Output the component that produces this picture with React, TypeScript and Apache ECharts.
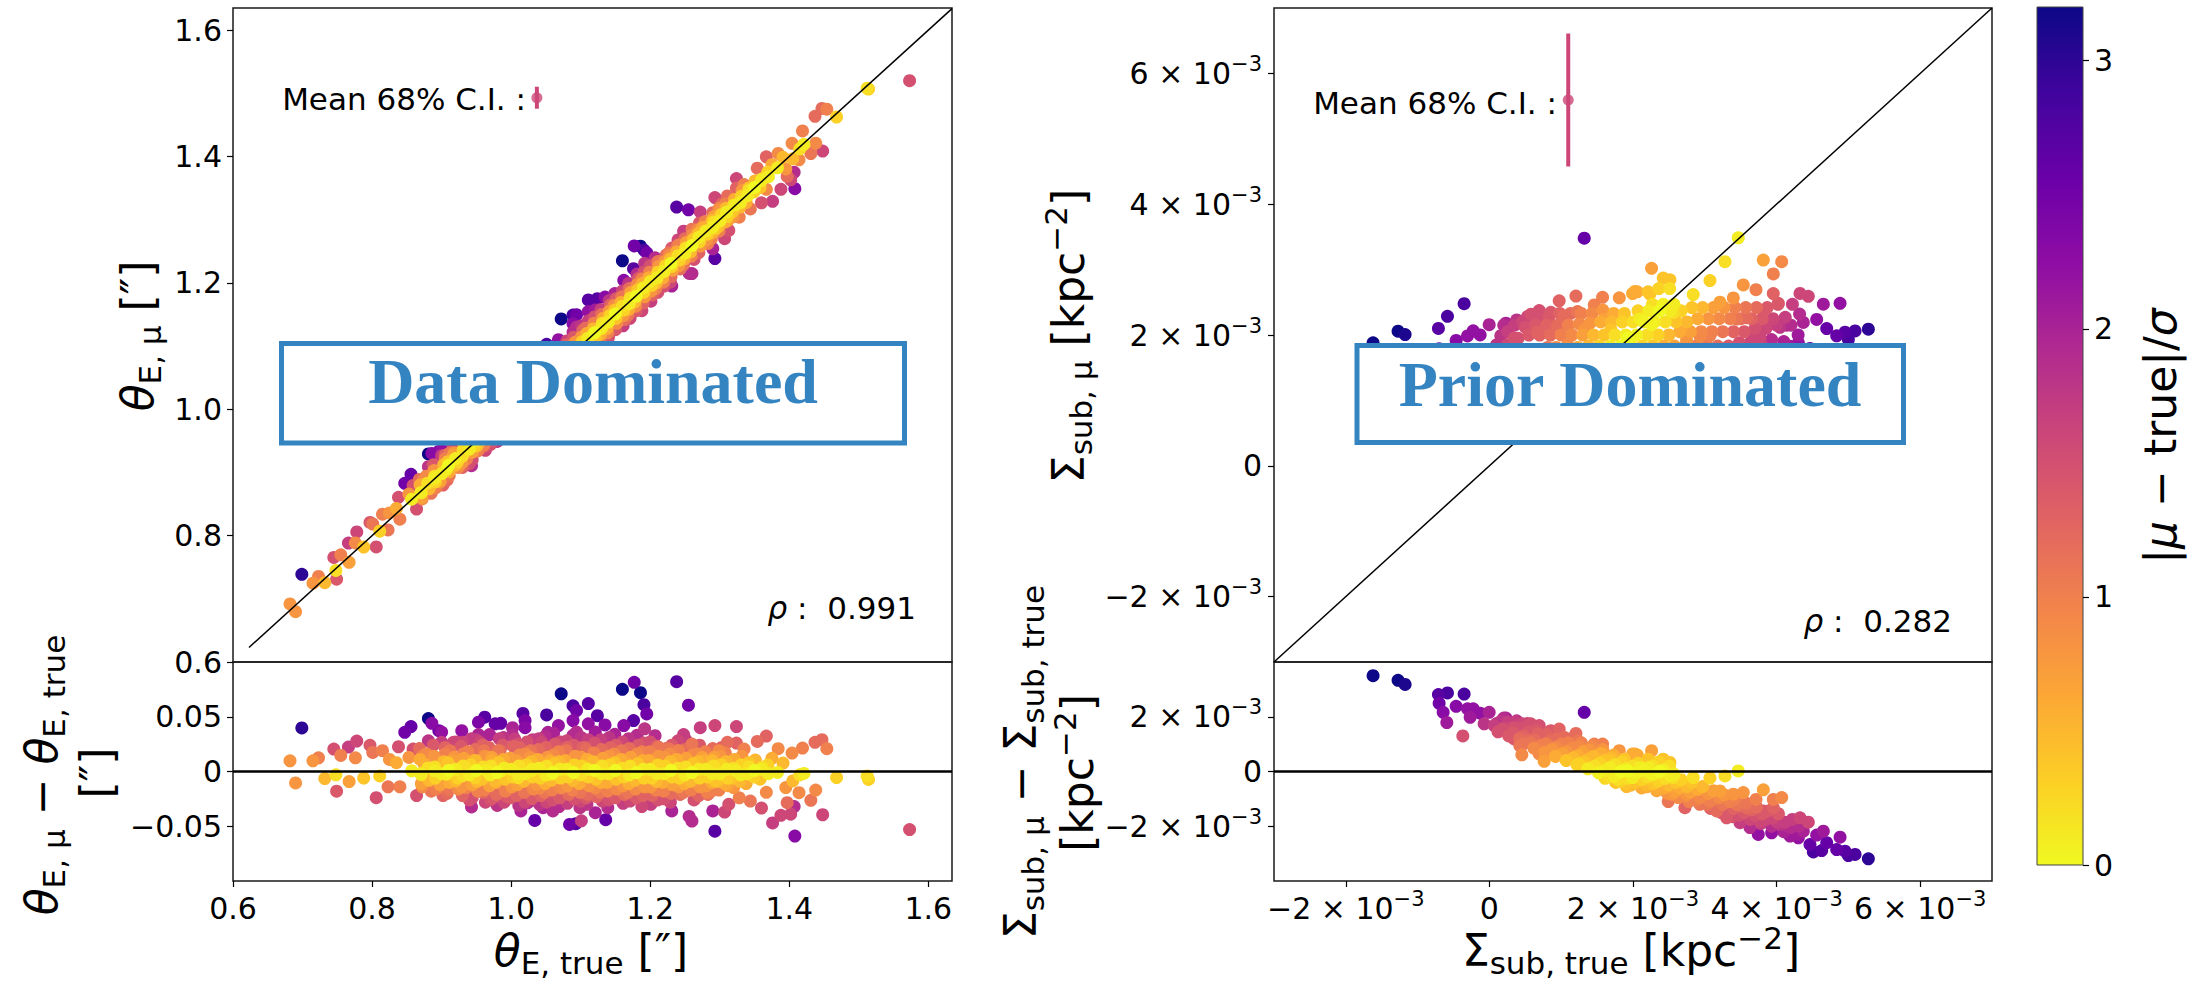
import React, { useEffect, useRef } from 'react';
import * as echarts from 'echarts';

const W = 2203;
const H = 981;
const FF = "'DejaVu Sans', 'Noto Sans', sans-serif";

// Einstein radius: [theta_true, theta_mu - theta_true, |mu-true|/sigma]
const thetaPoints: number[][] = [
  [0.682, 0.0098, 0.8], [0.690, -0.0104, 0.8], [0.699, 0.0398, 3.0], [0.715, 0.0098, 0.8],
  [0.723, 0.0125, 1.0], [0.732, -0.0064, 0.5], [0.745, 0.0205, 1.5], [0.748, -0.003, 0.2],
  [0.749, -0.018, 1.4], [0.755, 0.0147, 1.0], [0.766, 0.0223, 1.7], [0.767, -0.0092, 0.7],
  [0.776, 0.0125, 0.9], [0.778, 0.0278, 1.6], [0.788, -0.006, 0.4], [0.797, 0.0239, 1.4],
  [0.806, -0.0239, 1.5], [0.801, 0.0174, 1.1], [0.811, -0.004, 0.3], [0.815, 0.019, 1.0],
  [0.823, -0.014, 1.1], [0.825, 0.011, 0.8], [0.835, 0.008, 0.6], [0.838, 0.0226, 1.5],
  [0.840, -0.014, 1.0], [0.847, 0.0358, 2.5], [0.856, 0.041, 2.6], [0.853, 0.0128, 0.8],
  [0.857, 0.0006, 0.1], [0.864, -0.022, 1.5], [0.859, 0.0205, 1.5], [0.871, -0.003, 0.2],
  [0.873, 0.0144, 1.0], [0.875, 0.0067, 0.6], [0.872, -0.014, 0.9], [0.881, 0.0483, 3.2],
  [0.886, 0.044, 2.3], [0.881, 0.028, 1.8], [0.890, 0.0006, 0.1], [0.896, 0.0373, 2.5],
  [0.900, 0.036, 2.2], [0.900, 0.0266, 1.7], [0.897, -0.0147, 1.1], [0.905, 0.0159, 1.0],
  [0.907, -0.0024, 0.1], [0.911, -0.016, 1.1], [0.917, 0.0266, 1.6], [0.917, 0.0098, 0.7],
  [0.920, -0.0086, 0.5], [0.929, 0.0373, 2.2], [0.931, 0.0266, 1.6], [0.931, 0.0159, 1.0],
  [0.934, 0.0037, 0.2], [0.936, -0.0147, 1.0], [0.943, -0.0324, 1.9], [0.944, -0.0239, 1.5],
  [0.945, 0.0098, 0.6], [0.948, -0.0055, 0.3], [0.953, 0.045, 2.4], [0.953, 0.0337, 2.0],
  [0.955, 0.0266, 1.6], [0.962, 0.0496, 2.7], [0.960, -0.0193, 1.3], [0.961, 0.019, 1.1],
  [0.965, 0.0006, 0.1], [0.969, 0.0337, 2.0], [0.972, 0.0098, 0.6], [0.974, -0.0239, 1.4],
  [0.977, 0.0435, 2.6], [0.977, -0.0086, 0.5], [0.985, 0.044, 2.6], [0.984, 0.019, 1.2],
  [0.986, 0.0006, 0.1], [0.989, 0.031, 1.8], [0.991, -0.0147, 1.0], [0.993, -0.0224, 1.4],
  [1.002, 0.040, 2.0], [1.005, 0.0297, 1.7], [1.008, 0.0098, 0.7], [1.010, -0.0055, 0.2],
  [1.012, 0.022, 1.3], [1.014, -0.036, 2.0], [1.017, 0.053, 2.7], [1.020, 0.040, 2.3],
  [1.020, 0.0465, 2.4], [1.022, -0.0193, 1.4], [1.024, -0.0285, 1.9], [1.027, 0.0128, 0.8],
  [1.029, 0.0006, 0.1], [1.034, -0.0447, 2.6], [1.036, -0.0116, 0.8], [1.041, -0.030, 1.8],
  [1.044, 0.0266, 1.6], [1.046, -0.033, 2.0], [1.051, 0.0517, 2.8], [1.053, 0.0358, 2.0],
  [1.056, 0.0098, 0.6], [1.058, -0.0024, 0.1], [1.060, -0.036, 1.9], [1.068, 0.042, 2.2],
  [1.072, 0.071, 3.3], [1.080, 0.022, 1.3], [1.084, -0.0483, 2.5], [1.089, 0.060, 2.8],
  [1.093, -0.0477, 2.7], [1.094, 0.0557, 2.5], [1.094, 0.036, 1.9], [1.089, 0.0465, 2.3],
  [1.099, -0.033, 1.8], [1.101, -0.045, 1.7], [1.106, 0.022, 1.3], [1.111, 0.062, 2.7],
  [1.111, 0.0435, 2.2], [1.108, -0.024, 1.4],
  [1.124, 0.051, 2.7], [1.135, 0.0425, 2.3], [1.160, 0.075, 3.3], [1.177, 0.0814, 2.5],
  [1.186, 0.072, 3.4], [1.191, 0.061, 2.8], [1.195, 0.0526, 2.5], [1.176, 0.0465, 2.7],
  [1.162, 0.042, 2.3], [1.238, 0.082, 2.7], [1.255, 0.0606, 2.5], [1.207, 0.0327, 1.9],
  [1.192, 0.039, 1.8], [1.248, 0.0337, 1.7], [1.272, 0.040, 1.7], [1.293, 0.042, 1.6],
  [1.324, 0.041, 1.6], [1.367, 0.0324, 1.3], [1.354, 0.0275, 1.2], [1.324, 0.026, 1.3],
  [1.311, 0.0266, 1.2], [1.335, 0.0205, 1.0], [1.351, 0.0104, 0.6], [1.375, 0.012, 0.6],
  [1.384, 0.0208, 0.9], [1.391, 0.0077, 0.5], [1.404, 0.0168, 0.9], [1.419, 0.0214, 1.0],
  [1.437, 0.0266, 1.2], [1.447, 0.029, 1.2], [1.454, 0.0208, 1.0], [1.421, -0.0018, 0.1],
  [1.415, -0.003, 0.2], [1.468, -0.0055, 0.3], [1.512, -0.004, 0.2], [1.514, -0.0073, 0.3],
  [1.405, -0.0086, 0.5], [1.395, -0.0147, 0.8], [1.414, -0.0193, 0.9], [1.438, -0.017, 0.9],
  [1.431, -0.0263, 1.1], [1.397, -0.0285, 1.2], [1.407, -0.032, 1.9], [1.402, -0.039, 1.6],
  [1.388, -0.040, 1.6], [1.376, -0.047, 1.7], [1.408, -0.059, 2.3], [1.448, -0.0395, 1.6],
  [1.573, -0.053, 1.5], [1.360, -0.0334, 1.5], [1.367, -0.019, 0.9], [1.344, -0.027, 1.1],
  [1.328, -0.024, 1.0], [1.293, -0.0545, 2.7], [1.307, -0.037, 1.6], [1.290, -0.036, 2.0],
  [1.260, -0.0453, 1.9], [1.256, -0.041, 1.9], [1.231, -0.036, 2.0], [1.188, -0.032, 1.6],
  [1.136, -0.044, 2.6], [1.121, -0.0376, 2.0], [1.313, -0.030, 1.5], [1.282, -0.019, 1.0],
  [1.294, -0.0086, 0.4], [1.320, -0.0147, 0.8], [1.308, -0.0116, 0.6], [1.289, 0.0098, 0.5],
  [1.299, 0.019, 0.9], [1.275, 0.0128, 0.7], [1.260, 0.025, 1.1], [1.241, 0.019, 1.0],
  [1.227, 0.0205, 1.1], [1.212, 0.022, 1.1], [1.323, 0.0006, 0.1], [1.342, 0.0043, 0.2],
  [1.361, 0.0037, 0.2], [1.383, -0.0009, 0.1],
  [0.88, 0.003, 0.2], [0.882, -0.008, 0.5], [0.878, 0.016, 0.9], [0.885, -0.018, 1.1],
  [0.90, -0.002, 0.1], [0.903, 0.009, 0.5], [0.898, -0.012, 0.7], [0.905, 0.022, 1.3], [0.902, -0.022, 1.3],
  [0.92, 0.002, 0.1], [0.923, -0.006, 0.3], [0.918, 0.013, 0.8], [0.924, -0.016, 0.9], [0.921, 0.027, 1.6],
  [0.94, -0.003, 0.1], [0.942, 0.006, 0.3], [0.938, 0.018, 1.0], [0.944, -0.012, 0.7], [0.94, -0.026, 1.5], [0.943, 0.03, 1.7],
  [0.96, 0.004, 0.2], [0.958, -0.007, 0.4], [0.962, 0.014, 0.8], [0.961, -0.017, 1.0], [0.959, 0.024, 1.3], [0.963, -0.028, 1.6],
  [0.98, -0.001, 0.0], [0.982, 0.008, 0.4], [0.978, -0.01, 0.6], [0.981, 0.019, 1.1], [0.979, -0.021, 1.2], [0.983, 0.03, 1.7], [0.98, -0.031, 1.8],
  [1.0, 0.002, 0.1], [1.002, -0.005, 0.3], [0.998, 0.012, 0.7], [1.001, -0.014, 0.8], [1.003, 0.023, 1.3], [0.999, -0.024, 1.4], [1.002, 0.033, 1.9],
  [1.02, -0.002, 0.1], [1.022, 0.006, 0.3], [1.018, -0.009, 0.5], [1.021, 0.016, 0.9], [1.019, -0.019, 1.1], [1.023, 0.027, 1.5], [1.02, -0.028, 1.6],
  [1.04, 0.003, 0.1], [1.042, -0.006, 0.3], [1.038, 0.011, 0.6], [1.041, -0.015, 0.9], [1.039, 0.02, 1.2], [1.043, -0.022, 1.3], [1.04, 0.03, 1.7], [1.041, -0.03, 1.8],
  [1.06, -0.001, 0.0], [1.062, 0.007, 0.4], [1.058, -0.008, 0.5], [1.061, 0.015, 0.9], [1.059, -0.017, 1.0], [1.063, 0.025, 1.4], [1.06, -0.026, 1.5], [1.061, 0.035, 2.0],
  [1.08, 0.002, 0.1], [1.082, -0.005, 0.3], [1.078, 0.01, 0.6], [1.081, -0.013, 0.8], [1.079, 0.019, 1.1], [1.083, -0.021, 1.2], [1.08, 0.028, 1.6], [1.081, -0.029, 1.7],
  [1.1, -0.003, 0.2], [1.102, 0.005, 0.3], [1.098, -0.011, 0.6], [1.101, 0.013, 0.8], [1.099, -0.019, 1.1], [1.103, 0.022, 1.3], [1.1, -0.027, 1.6], [1.101, 0.031, 1.8],
  [1.12, 0.001, 0.0], [1.122, -0.007, 0.4], [1.118, 0.009, 0.5], [1.121, -0.015, 0.9], [1.119, 0.017, 1.0], [1.123, -0.023, 1.3], [1.12, 0.026, 1.5], [1.121, 0.036, 2.1],
  [1.14, -0.002, 0.1], [1.142, 0.006, 0.3], [1.138, -0.01, 0.6], [1.141, 0.014, 0.8], [1.139, -0.018, 1.0], [1.143, 0.022, 1.3], [1.14, -0.026, 1.5], [1.141, 0.031, 1.8], [1.139, -0.033, 1.9],
  [1.16, 0.003, 0.2], [1.162, -0.005, 0.3], [1.158, 0.011, 0.6], [1.161, -0.013, 0.8], [1.159, 0.019, 1.1], [1.163, -0.021, 1.2], [1.16, 0.027, 1.6], [1.161, -0.029, 1.7],
  [1.18, -0.001, 0.0], [1.182, 0.007, 0.4], [1.178, -0.008, 0.5], [1.181, 0.016, 0.9], [1.179, -0.016, 0.9], [1.183, 0.024, 1.4], [1.18, -0.024, 1.4], [1.181, 0.033, 1.9],
  [1.2, 0.002, 0.1], [1.202, -0.006, 0.3], [1.198, 0.01, 0.6], [1.201, -0.014, 0.8], [1.199, 0.018, 1.0], [1.203, -0.022, 1.3], [1.2, 0.027, 1.5], [1.201, -0.03, 1.7],
  [1.22, -0.002, 0.1], [1.222, 0.005, 0.3], [1.218, -0.01, 0.6], [1.221, 0.013, 0.8], [1.219, -0.018, 1.0], [1.223, 0.021, 1.2], [1.22, -0.025, 1.5],
  [1.24, 0.003, 0.2], [1.242, -0.006, 0.3], [1.238, 0.011, 0.6], [1.241, -0.014, 0.8], [1.239, 0.019, 1.1], [1.243, -0.021, 1.2], [1.24, 0.028, 1.6],
  [1.26, -0.001, 0.0], [1.262, 0.007, 0.4], [1.258, -0.009, 0.5], [1.261, 0.015, 0.9], [1.259, -0.017, 1.0], [1.263, -0.026, 1.5],
  [1.28, 0.002, 0.1], [1.282, -0.005, 0.3], [1.278, 0.01, 0.6], [1.281, -0.013, 0.8], [1.279, 0.018, 1.0], [1.283, -0.021, 1.2],
  [1.3, -0.002, 0.1], [1.302, 0.006, 0.3], [1.298, -0.009, 0.5], [1.301, 0.014, 0.8], [1.299, -0.017, 1.0], [1.303, 0.022, 1.3],
  [1.32, 0.003, 0.2], [1.318, -0.006, 0.4], [1.321, 0.011, 0.6], [1.319, -0.014, 0.8],
  [1.34, -0.002, 0.1], [1.342, 0.008, 0.4], [1.338, -0.011, 0.6],
  [1.36, 0.002, 0.1], [1.358, -0.007, 0.4],
  [0.87, -0.002, 0.1], [0.869, 0.011, 0.6], [0.871, -0.011, 0.7], [0.868, 0.021, 1.2],
  [0.89, 0.004, 0.2], [0.891, -0.006, 0.3], [0.889, 0.014, 0.8], [0.892, -0.016, 1.0], [0.888, 0.024, 1.4],
  [0.91, 0.001, 0.0], [0.911, -0.01, 0.6], [0.909, 0.008, 0.4], [0.912, 0.019, 1.1], [0.908, -0.02, 1.2],
  [0.93, -0.004, 0.2], [0.931, 0.005, 0.2], [0.929, -0.014, 0.8], [0.932, 0.012, 0.7], [0.928, 0.023, 1.4], [0.93, -0.022, 1.3],
  [0.95, 0.001, 0.0], [0.951, -0.009, 0.5], [0.949, 0.01, 0.5], [0.952, -0.018, 1.0], [0.948, 0.02, 1.2], [0.95, 0.029, 1.7],
  [0.97, -0.003, 0.1], [0.971, 0.005, 0.2], [0.969, -0.013, 0.7], [0.972, 0.013, 0.7], [0.968, 0.022, 1.3], [0.97, -0.026, 1.5],
  [0.99, 0.003, 0.1], [0.991, -0.007, 0.4], [0.989, 0.011, 0.6], [0.992, -0.018, 1.0], [0.988, 0.024, 1.4], [0.99, -0.028, 1.6],
  [1.01, -0.002, 0.1], [1.011, 0.005, 0.2], [1.009, -0.012, 0.7], [1.012, 0.015, 0.9], [1.008, -0.022, 1.3], [1.01, 0.025, 1.5], [1.011, -0.031, 1.8],
  [1.03, 0.002, 0.1], [1.031, -0.005, 0.3], [1.029, 0.009, 0.5], [1.032, -0.016, 0.9], [1.028, 0.019, 1.1], [1.03, -0.025, 1.4], [1.031, 0.029, 1.7],
  [1.05, -0.003, 0.1], [1.051, 0.005, 0.2], [1.049, -0.011, 0.6], [1.052, 0.013, 0.8], [1.048, -0.019, 1.1], [1.05, 0.022, 1.3], [1.051, -0.028, 1.6], [1.049, 0.032, 1.9],
  [1.07, 0.002, 0.1], [1.071, -0.006, 0.3], [1.069, 0.009, 0.5], [1.072, -0.015, 0.9], [1.068, 0.018, 1.0], [1.07, -0.024, 1.4], [1.071, 0.027, 1.6], [1.069, -0.032, 1.9],
  [1.09, -0.001, 0.0], [1.091, 0.006, 0.3], [1.089, -0.008, 0.5], [1.092, 0.014, 0.8], [1.088, -0.017, 1.0], [1.09, 0.024, 1.4], [1.091, -0.025, 1.5], [1.089, 0.033, 1.9],
  [1.11, 0.002, 0.1], [1.111, -0.005, 0.3], [1.109, 0.011, 0.6], [1.112, -0.013, 0.8], [1.108, 0.02, 1.2], [1.11, -0.021, 1.2], [1.111, 0.029, 1.7], [1.109, -0.03, 1.8],
  [1.13, -0.002, 0.1], [1.131, 0.005, 0.2], [1.129, -0.01, 0.6], [1.132, 0.012, 0.7], [1.128, -0.019, 1.1], [1.13, 0.02, 1.2], [1.131, -0.027, 1.6], [1.129, 0.029, 1.7],
  [1.15, 0.001, 0.0], [1.151, -0.007, 0.4], [1.149, 0.008, 0.4], [1.152, -0.016, 0.9], [1.148, 0.016, 0.9], [1.15, -0.024, 1.4], [1.151, 0.024, 1.4], [1.149, 0.034, 2.0],
  [1.17, -0.003, 0.1], [1.171, 0.005, 0.2], [1.169, -0.011, 0.6], [1.172, 0.013, 0.7], [1.168, -0.019, 1.1], [1.17, 0.021, 1.2], [1.171, -0.027, 1.6], [1.169, 0.03, 1.8],
  [1.19, 0.002, 0.1], [1.191, -0.006, 0.3], [1.189, 0.01, 0.6], [1.192, -0.014, 0.8], [1.188, 0.018, 1.0], [1.19, -0.022, 1.3], [1.191, 0.026, 1.5],
  [1.21, -0.002, 0.1], [1.211, 0.006, 0.3], [1.209, -0.009, 0.5], [1.212, 0.014, 0.8], [1.208, -0.017, 1.0], [1.21, 0.023, 1.3], [1.211, -0.026, 1.5],
  [1.23, 0.001, 0.0], [1.231, -0.005, 0.3], [1.229, 0.009, 0.5], [1.232, -0.012, 0.7], [1.228, 0.016, 0.9], [1.23, -0.02, 1.2], [1.231, 0.024, 1.4], [1.229, -0.028, 1.6],
  [1.25, -0.003, 0.1], [1.251, 0.004, 0.2], [1.249, -0.011, 0.6], [1.252, 0.012, 0.7], [1.248, -0.019, 1.1], [1.25, 0.02, 1.2], [1.251, 0.029, 1.7],
  [1.27, 0.002, 0.1], [1.271, -0.006, 0.3], [1.269, 0.009, 0.5], [1.272, -0.014, 0.8], [1.268, 0.016, 0.9], [1.27, -0.022, 1.3], [1.271, 0.024, 1.4],
  [1.29, -0.002, 0.1], [1.291, 0.005, 0.2], [1.289, -0.01, 0.6], [1.292, 0.013, 0.7], [1.288, -0.018, 1.0], [1.29, 0.021, 1.2],
  [1.31, 0.002, 0.1], [1.311, -0.006, 0.3], [1.309, 0.009, 0.5], [1.312, -0.013, 0.7], [1.308, 0.017, 1.0],
  [1.33, -0.003, 0.1], [1.331, 0.006, 0.3], [1.329, -0.009, 0.5], [1.332, 0.014, 0.8],
  [1.35, 0.001, 0.0], [1.349, -0.005, 0.3], [1.351, 0.01, 0.5],
  [1.37, -0.002, 0.1], [1.369, 0.006, 0.3],
];

// Subhalo surface density (units of 1e-3 kpc^-2): [true, mu - true, |mu-true|/sigma]
const sigmaPoints: number[][] = [
  [-1.620, 3.50, 3.3], [-1.272, 3.33, 3.3], [-1.174, 3.18, 3.1], [-0.710, 2.81, 2.7],
  [-0.584, 2.87, 2.8], [-0.352, 2.83, 2.8], [-0.700, 2.49, 2.5], [-0.644, 2.16, 2.3],
  [-0.593, 1.79, 2.1], [-0.463, 2.38, 2.3], [-0.370, 1.30, 1.5], [-0.305, 2.29, 2.2],
  [-0.226, 2.29, 2.2], [-0.268, 1.98, 2.1], [-0.129, 2.13, 2.2], [-0.003, 2.16, 2.0],
  [-0.073, 1.74, 1.8], [0.066, 1.68, 1.7], [0.159, 1.83, 1.8], [0.252, 1.80, 1.7],
  [0.159, 1.49, 1.6], [0.345, 1.61, 1.5], [0.345, 1.19, 1.4], [0.461, 1.74, 1.6],
  [0.577, 1.74, 1.5], [0.694, 1.68, 1.5], [0.424, 0.94, 1.1], [0.452, 0.61, 0.9],
  [0.554, 1.13, 1.2], [0.670, 1.37, 1.3], [0.694, 0.64, 0.9], [0.763, 0.37, 0.7],
  [0.810, 1.00, 1.1], [0.856, 1.49, 1.4], [0.972, 1.55, 1.3], [0.949, 0.82, 0.9],
  [1.042, 1.25, 1.2], [1.088, 0.76, 0.9], [1.205, 1.39, 1.2], [1.228, 1.13, 1.1],
  [1.321, 2.16, 2.6], [1.181, 0.51, 0.6], [1.251, 0.27, 0.3], [1.321, 0.76, 0.8],
  [1.391, 0.39, 0.5], [1.437, 0.15, 0.2], [1.460, 1.00, 1.0], [1.576, 1.00, 1.0],
  [1.600, 0.64, 0.7], [1.692, 0.39, 0.4], [1.739, -0.16, 0.1], [1.785, -0.28, 0.2],
  [1.809, 0.76, 0.8], [1.901, -0.46, 0.4], [1.925, 0.02, 0.0], [1.994, 0.64, 0.6],
  [1.994, -0.22, 0.1],
  [2.026, 0.64, 0.6], [2.259, 0.76, 0.7], [2.235, 0.39, 0.4], [2.421, 0.45, 0.4],
  [2.514, 0.33, 0.4], [2.096, 0.15, 0.1], [2.259, -0.10, 0.05], [2.561, -0.22, 0.2],
  [2.839, -0.22, 0.2], [3.072, -0.24, 0.3], [3.281, -0.16, 0.2], [3.466, 0.02, 0.1],
  [2.189, -0.56, 0.6], [2.328, -0.65, 0.6], [2.491, -1.10, 1.1], [2.723, -1.32, 1.3],
  [2.537, -0.83, 0.8], [2.746, -0.83, 0.8], [2.932, -0.95, 0.9], [3.072, -1.08, 1.0],
  [3.165, -1.44, 1.2], [3.304, -1.69, 1.4], [3.211, -0.71, 0.7], [3.397, -0.83, 0.8],
  [3.536, -0.77, 0.8], [3.443, -1.20, 1.1], [3.583, -1.32, 1.2], [3.713, -1.02, 1.0],
  [3.815, -0.67, 0.7], [3.954, -1.02, 1.0], [4.071, -0.95, 0.9], [3.490, -1.87, 1.7],
  [3.629, -2.05, 1.9], [3.745, -2.30, 2.2], [3.676, -1.69, 1.6], [3.768, -1.81, 1.6],
  [3.815, -1.44, 1.4], [3.954, -1.32, 1.3], [4.024, -1.54, 1.4], [3.931, -2.24, 2.2],
  [4.047, -1.93, 1.8], [4.140, -1.99, 1.9], [4.187, -2.36, 2.1], [4.326, -1.69, 1.6],
  [4.442, -1.85, 1.6], [4.372, -2.18, 2.0], [4.303, -2.42, 2.2], [4.465, -2.67, 2.6],
  [4.512, -2.94, 2.8], [4.558, -2.32, 2.2], [4.651, -2.18, 2.1], [4.628, -2.89, 2.7],
  [4.698, -2.60, 2.6], [4.837, -2.85, 2.6], [4.884, -2.40, 2.2], [4.953, -2.91, 2.7],
  [5.000, -3.07, 2.8], [5.093, -3.03, 2.8], [5.278, -3.19, 3.0],
  [0.1, 1.75, 1.8], [0.12, 1.45, 1.5], [0.25, 1.6, 1.6], [0.27, 1.3, 1.4], [0.23, 1.95, 2.0],
  [0.4, 1.55, 1.5], [0.42, 1.2, 1.2], [0.38, 1.85, 1.8], [0.55, 1.45, 1.4], [0.57, 1.05, 1.1],
  [0.53, 1.75, 1.6], [0.7, 1.3, 1.3], [0.72, 0.95, 1.0], [0.68, 1.6, 1.5], [0.85, 1.15, 1.2],
  [0.87, 0.8, 0.8], [0.83, 1.45, 1.4], [1.0, 1.0, 1.0], [1.02, 0.65, 0.7], [0.98, 1.35, 1.3],
  [1.15, 0.85, 0.9], [1.17, 0.5, 0.5], [1.13, 1.2, 1.2], [1.3, 0.7, 0.7], [1.32, 0.35, 0.4],
  [1.28, 1.05, 1.0], [1.45, 0.55, 0.5], [1.47, 0.2, 0.2], [1.43, 0.9, 0.9], [1.6, 0.4, 0.4],
  [1.62, 0.05, 0.1], [1.58, 0.8, 0.8], [1.61, -0.25, 0.25], [1.75, 0.25, 0.2], [1.77, -0.1, 0.1],
  [1.73, 0.6, 0.6], [1.76, -0.4, 0.4], [1.9, 0.1, 0.1], [1.92, -0.25, 0.2], [1.88, 0.45, 0.4],
  [1.91, -0.55, 0.5], [2.05, -0.05, 0.05], [2.07, 0.3, 0.3], [2.03, -0.4, 0.4], [2.06, 0.6, 0.6],
  [2.2, -0.2, 0.2], [2.22, 0.15, 0.1], [2.18, -0.5, 0.5], [2.21, 0.45, 0.4], [2.35, -0.35, 0.3],
  [2.37, 0.0, 0.0], [2.33, -0.7, 0.7], [2.36, 0.35, 0.3], [2.5, -0.5, 0.5], [2.52, -0.15, 0.1],
  [2.48, -0.8, 0.8], [2.51, 0.2, 0.2], [2.65, -0.6, 0.6], [2.67, -0.3, 0.3], [2.63, -0.95, 0.9],
  [2.8, -0.75, 0.7], [2.82, -0.4, 0.4], [2.78, -1.1, 1.0], [2.95, -0.9, 0.9], [2.97, -0.55, 0.5],
  [2.93, -1.2, 1.1], [3.1, -1.05, 1.0], [3.12, -0.7, 0.7], [3.08, -1.35, 1.3], [3.25, -1.2, 1.1],
  [3.27, -0.85, 0.8], [3.23, -1.5, 1.4], [3.4, -1.35, 1.3], [3.42, -1.0, 1.0], [3.38, -1.65, 1.5],
  [3.55, -1.5, 1.4], [3.57, -1.15, 1.1], [3.7, -1.6, 1.5], [3.72, -1.3, 1.2], [3.85, -1.75, 1.6],
  [3.87, -1.45, 1.4], [4.0, -1.85, 1.7], [4.02, -1.55, 1.5], [4.2, -2.05, 1.9], [4.22, -1.75, 1.7],
  [0.18, 1.55, 1.5], [0.2, 1.95, 1.9], [0.33, 1.42, 1.4], [0.35, 1.8, 1.7],
  [0.48, 1.3, 1.3], [0.5, 1.62, 1.5], [0.47, 1.0, 1.1], [0.63, 1.15, 1.2], [0.65, 1.5, 1.4], [0.62, 0.85, 0.9],
  [0.78, 1.0, 1.0], [0.8, 1.35, 1.3], [0.77, 0.7, 0.8], [0.93, 0.88, 0.9], [0.95, 1.2, 1.2], [0.92, 0.55, 0.6],
  [1.08, 0.72, 0.8], [1.1, 1.05, 1.0], [1.07, 0.4, 0.4], [1.23, 0.58, 0.6], [1.25, 0.92, 0.9], [1.22, 0.25, 0.3],
  [1.38, 0.45, 0.5], [1.4, 0.78, 0.8], [1.37, 0.1, 0.1], [1.53, 0.3, 0.3], [1.55, 0.65, 0.6], [1.52, -0.05, 0.05],
  [1.68, 0.15, 0.1], [1.7, 0.5, 0.5], [1.67, -0.2, 0.2], [1.83, 0.0, 0.0], [1.85, 0.35, 0.3], [1.82, -0.35, 0.3],
  [1.98, -0.15, 0.1], [2.0, 0.2, 0.2], [1.97, -0.5, 0.5], [2.13, -0.3, 0.3], [2.15, 0.05, 0.05], [2.12, -0.6, 0.6],
  [2.28, -0.45, 0.4], [2.3, -0.1, 0.1], [2.27, 0.2, 0.2], [2.43, -0.6, 0.6], [2.45, -0.25, 0.2], [2.42, 0.05, 0.05],
  [2.58, -0.75, 0.7], [2.6, -0.4, 0.4], [2.57, -0.1, 0.1], [2.73, -0.9, 0.9], [2.75, -0.55, 0.5],
  [2.88, -1.05, 1.0], [2.9, -0.65, 0.6], [3.03, -1.2, 1.1], [3.05, -0.8, 0.8], [3.18, -1.35, 1.2], [3.2, -0.95, 0.9],
  [3.33, -1.5, 1.4], [3.35, -1.1, 1.0], [3.48, -1.6, 1.5], [3.5, -1.25, 1.2], [3.63, -1.75, 1.6], [3.65, -1.4, 1.3],
  [3.78, -1.9, 1.7], [3.8, -1.55, 1.4], [3.93, -2.0, 1.9], [3.95, -1.7, 1.6], [4.1, -2.2, 2.0], [4.12, -1.85, 1.7],
  [4.3, -2.3, 2.1], [4.32, -2.0, 1.9],
];

const thetaTicks = [0.6, 0.8, 1.0, 1.2, 1.4, 1.6];
const thetaResidTicks = [-0.05, 0, 0.05];
const sigmaTicks = [-2, 0, 2, 4, 6];
const sigmaResidTicks = [-2, 0, 2];
const cbarTicks = [0, 1, 2, 3];
const thetaRange = [0.6, 1.634];
const thetaMuRange = [0.6, 1.635];
const thetaResidRange = [-0.1, 0.1];
const sigmaRange = [-3, 7];
const sigmaResidRange = [-4, 4];
const zRange = [0, 3.2];
const thetaDiagStart = 0.623;
const thetaCI = [1.037, 1.493, 0.0174]; // x, y, half-width
const sigmaCI = [1.098, 5.593, 1.017];
const thetaRho = '0.991';
const sigmaRho = '0.282';
const plasma = ['#0d0887', '#41049d', '#6a00a8', '#8f0da4', '#b12a90', '#cc4778',
  '#e16462', '#f2844b', '#fca636', '#fcce25', '#f0f921'];

const byZDesc = (a: number[], b: number[]) => b[2] - a[2];

const fmtTheta = (v: number) => v.toFixed(1);
const fmtResid = (v: number) => (v === 0 ? '0' : (v < 0 ? '\u2212' : '') + Math.abs(v).toString());
const fmtSci = (v: number) =>
  v === 0 ? '{n|0}' : `{n|${v < 0 ? '\u2212' : ''}${Math.abs(v)} \u00d7 10}{s|\u22123}`;

const labelBase = { fontSize: 30, fontFamily: FF, color: '#000' };
const sciRich = {
  n: { fontSize: 30, fontFamily: FF, color: '#000', lineHeight: 40 },
  s: { fontSize: 21, fontFamily: FF, color: '#000', verticalAlign: 'top' },
};
const tickStyle = { length: 6, inside: false, lineStyle: { color: '#000', width: 1.2 } };
const noLine = { show: false, onZero: false };

const titleRich = {
  n: { fontSize: 44, fontFamily: FF, fill: '#000', lineHeight: 56 },
  i: { fontSize: 44, fontFamily: FF, fontStyle: 'italic', fill: '#000', lineHeight: 56 },
  s: { fontSize: 31, fontFamily: FF, fill: '#000', verticalAlign: 'bottom' },
  p: { fontSize: 31, fontFamily: FF, fill: '#000', verticalAlign: 'top' },
};

function title(text: string, x: number, y: number, rotate: boolean) {
  return {
    type: 'text', x, y, rotation: rotate ? Math.PI / 2 : 0, z: 110,
    style: { text, x: 0, y: 0, align: 'center', verticalAlign: 'middle', rich: titleRich, fill: '#000', fontFamily: FF, fontSize: 44 },
  };
}

function buildOption() {
  const th = [...thetaPoints].sort(byZDesc);
  const sg = [...sigmaPoints].sort(byZDesc);
  const border = { show: true, borderColor: '#1a1a1a', borderWidth: 1.5, backgroundColor: 'transparent', outerBoundsMode: 'none' };
  const scatterBase = { type: 'scatter', symbolSize: 13, itemStyle: { opacity: 1 }, silent: true, z: 2 };
  const lineBase = { type: 'line', symbol: 'none', silent: true, z: 4, lineStyle: { color: '#000', width: 1.5 } };
  const ciColor = '#cc4778';
  const textSmall = (text: string, x: number, y: number, align: string) => ({
    type: 'text', x, y, z: 110,
    style: { text, x: 0, y: 0, align, verticalAlign: 'middle', fill: '#000', fontFamily: FF, fontSize: 31 },
  });
  const rhoText = (val: string, x: number, y: number) => ({
    type: 'text', x, y, z: 110,
    style: {
      text: `{i|\u03c1}{n| :  ${val}}`, x: 0, y: 0, align: 'right', verticalAlign: 'middle', fill: '#000',
      rich: {
        i: { fontSize: 31, fontFamily: FF, fontStyle: 'italic', fill: '#000' },
        n: { fontSize: 31, fontFamily: FF, fill: '#000' },
      },
    },
  });
  const boxColor = '#3584c2';

  return {
    animation: false,
    backgroundColor: '#fff',
    grid: [
      { left: 233, top: 8, width: 719, height: 654, ...border },
      { left: 233, top: 662, width: 719, height: 219, ...border },
      { left: 1274, top: 8, width: 718, height: 654, ...border },
      { left: 1274, top: 662, width: 718, height: 219, ...border },
      {
        left: 2037, top: 7, width: 46, height: 858, show: true, borderColor: '#444', borderWidth: 1, outerBoundsMode: 'none',
        backgroundColor: {
          type: 'linear', x: 0, y: 0, x2: 0, y2: 1,
          colorStops: plasma.map((c, i) => ({ offset: i / (plasma.length - 1), color: c })),
        },
      },
    ],
    xAxis: [
      { gridIndex: 0, type: 'value', min: thetaRange[0], max: thetaRange[1], show: false, axisLine: noLine },
      {
        gridIndex: 1, type: 'value', min: thetaRange[0], max: thetaRange[1],
        axisLine: noLine, splitLine: { show: false },
        axisTick: { show: true, customValues: thetaTicks, ...tickStyle },
        axisLabel: { customValues: thetaTicks, formatter: fmtTheta, margin: 12, ...labelBase },
      },
      { gridIndex: 2, type: 'value', min: sigmaRange[0], max: sigmaRange[1], show: false, axisLine: noLine },
      {
        gridIndex: 3, type: 'value', min: sigmaRange[0], max: sigmaRange[1],
        axisLine: noLine, splitLine: { show: false },
        axisTick: { show: true, customValues: sigmaTicks, ...tickStyle },
        axisLabel: { customValues: sigmaTicks, formatter: fmtSci, margin: 7, rich: sciRich, ...labelBase },
      },
      { gridIndex: 4, type: 'value', min: 0, max: 1, show: false, axisLine: noLine },
    ],
    yAxis: [
      {
        gridIndex: 0, type: 'value', min: thetaMuRange[0], max: thetaMuRange[1],
        axisLine: noLine, splitLine: { show: false },
        axisTick: { show: true, customValues: thetaTicks, ...tickStyle },
        axisLabel: { customValues: thetaTicks, formatter: fmtTheta, margin: 11, ...labelBase },
      },
      {
        gridIndex: 1, type: 'value', min: thetaResidRange[0], max: thetaResidRange[1],
        axisLine: noLine, splitLine: { show: false },
        axisTick: { show: true, customValues: thetaResidTicks, ...tickStyle },
        axisLabel: { customValues: thetaResidTicks, formatter: fmtResid, margin: 11, ...labelBase },
      },
      {
        gridIndex: 2, type: 'value', min: sigmaRange[0], max: sigmaRange[1],
        axisLine: noLine, splitLine: { show: false },
        axisTick: { show: true, customValues: sigmaTicks, ...tickStyle },
        axisLabel: { customValues: sigmaTicks, formatter: fmtSci, margin: 12, rich: sciRich, ...labelBase },
      },
      {
        gridIndex: 3, type: 'value', min: sigmaResidRange[0], max: sigmaResidRange[1],
        axisLine: noLine, splitLine: { show: false },
        axisTick: { show: true, customValues: sigmaResidTicks, ...tickStyle },
        axisLabel: { customValues: sigmaResidTicks, formatter: fmtSci, margin: 12, rich: sciRich, ...labelBase },
      },
      {
        gridIndex: 4, type: 'value', position: 'right', min: zRange[0], max: zRange[1],
        axisLine: noLine, splitLine: { show: false },
        axisTick: { show: true, customValues: cbarTicks, ...tickStyle },
        axisLabel: { customValues: cbarTicks, formatter: (v: number) => String(v), margin: 11, ...labelBase },
      },
    ],
    visualMap: {
      show: false, type: 'continuous', dimension: 2, seriesIndex: [0, 1, 2, 3],
      min: zRange[0], max: zRange[1], inRange: { color: [...plasma].reverse() },
    },
    series: [
      { ...scatterBase, xAxisIndex: 0, yAxisIndex: 0, data: th.map((p) => [p[0], p[0] + p[1], p[2]]) },
      { ...scatterBase, xAxisIndex: 1, yAxisIndex: 1, data: th.map((p) => [p[0], p[1], p[2]]) },
      { ...scatterBase, xAxisIndex: 2, yAxisIndex: 2, data: sg.map((p) => [p[0], p[0] + p[1], p[2]]) },
      { ...scatterBase, xAxisIndex: 3, yAxisIndex: 3, data: sg.map((p) => [p[0], p[1], p[2]]) },
      { ...lineBase, xAxisIndex: 0, yAxisIndex: 0, data: [[thetaDiagStart, thetaDiagStart], [thetaRange[1], thetaRange[1]]] },
      { ...lineBase, xAxisIndex: 1, yAxisIndex: 1, lineStyle: { color: '#000', width: 2.5 }, data: [[thetaRange[0], 0], [thetaRange[1], 0]] },
      { ...lineBase, xAxisIndex: 2, yAxisIndex: 2, data: [[sigmaRange[0], sigmaRange[0]], [sigmaRange[1], sigmaRange[1]]] },
      { ...lineBase, xAxisIndex: 3, yAxisIndex: 3, lineStyle: { color: '#000', width: 2.5 }, data: [[sigmaRange[0], 0], [sigmaRange[1], 0]] },
      { ...lineBase, xAxisIndex: 0, yAxisIndex: 0, z: 6, lineStyle: { color: ciColor, width: 4 },
        data: [[thetaCI[0], thetaCI[1] - thetaCI[2]], [thetaCI[0], thetaCI[1] + thetaCI[2]]] },
      { type: 'scatter', xAxisIndex: 0, yAxisIndex: 0, z: 7, silent: true, symbolSize: 11, itemStyle: { color: ciColor }, data: [[thetaCI[0], thetaCI[1]]] },
      { ...lineBase, xAxisIndex: 2, yAxisIndex: 2, z: 6, lineStyle: { color: ciColor, width: 4 },
        data: [[sigmaCI[0], sigmaCI[1] - sigmaCI[2]], [sigmaCI[0], sigmaCI[1] + sigmaCI[2]]] },
      { type: 'scatter', xAxisIndex: 2, yAxisIndex: 2, z: 7, silent: true, symbolSize: 11, itemStyle: { color: ciColor }, data: [[sigmaCI[0], sigmaCI[1]]] },
    ],
    graphic: [
      { type: 'rect', z: 100, shape: { x: 281.5, y: 343.5, width: 623, height: 99.5 }, style: { fill: '#fff', stroke: boxColor, lineWidth: 5 } },
      { type: 'text', z: 101, x: 593, y: 381, style: { text: 'Data Dominated', x: 0, y: 0, align: 'center', verticalAlign: 'middle', fill: boxColor, fontFamily: "'Liberation Serif', serif", fontWeight: 'bold', fontSize: 64 } },
      { type: 'rect', z: 100, shape: { x: 1357, y: 345.5, width: 546.5, height: 97 }, style: { fill: '#fff', stroke: boxColor, lineWidth: 5 } },
      { type: 'text', z: 101, x: 1630, y: 384, style: { text: 'Prior Dominated', x: 0, y: 0, align: 'center', verticalAlign: 'middle', fill: boxColor, fontFamily: "'Liberation Serif', serif", fontWeight: 'bold', fontSize: 64 } },
      textSmall('Mean 68% C.I. :', 526, 99, 'right'),
      textSmall('Mean 68% C.I. :', 1557, 103, 'right'),
      rhoText(thetaRho, 916, 608),
      rhoText(sigmaRho, 1952, 621),
      title('{i|\u03b8}{s|E, \u03bc}{n| [\u2033]}', 137, 336, true),
      title('{i|\u03b8}{s|E, \u03bc}{n| \u2212 }{i|\u03b8}{s|E, true}', 41, 775, true),
      title('{n|[\u2033]}', 96, 773, true),
      title('{i|\u03b8}{s|E, true}{n| [\u2033]}', 591, 950, false),
      title('{n|\u03a3}{s|sub, \u03bc}{n| [kpc}{p|\u22122}{n|]}', 1068, 336, true),
      title('{n|\u03a3}{s|sub, \u03bc}{n| \u2212 \u03a3}{s|sub, true}', 1020, 762, true),
      title('{n|[kpc}{p|\u22122}{n|]}', 1077, 773, true),
      title('{n|\u03a3}{s|sub, true}{n| [kpc}{p|\u22122}{n|]}', 1631, 950, false),
      title('{n|\u007c}{i|\u03bc}{n| \u2212 true\u007c/}{i|\u03c3}', 2160, 436, true),
    ],
  };
}

export default function App() {
  const ref = useRef<HTMLDivElement>(null);
  useEffect(() => {
    if (!ref.current) return;
    const chart = echarts.init(ref.current, null, { renderer: 'svg', width: W, height: H });
    chart.setOption(buildOption() as any);
    return () => chart.dispose();
  }, []);
  return (
    <div
      ref={ref}
      style={{ position: 'fixed', left: 0, top: 0, width: W, height: H, background: '#fff' }}
    />
  );
}
